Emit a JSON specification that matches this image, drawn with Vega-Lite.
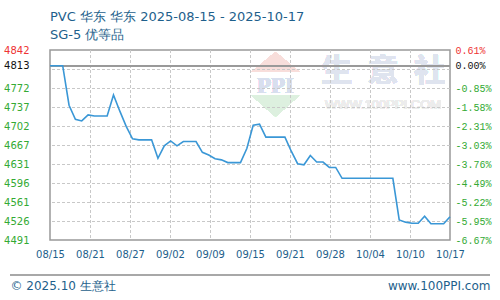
{
  "$schema": "https://vega.github.io/schema/vega-lite/v6.json",
  "width": 400,
  "height": 190,
  "autosize": {"type": "none"},
  "padding": {"left": 50, "top": 50, "right": 50, "bottom": 60},
  "background": "white",
  "title": {
    "text": "PVC 华东 华东 2025-08-15 - 2025-10-17",
    "subtitle": "SG-5 优等品",
    "anchor": "start",
    "frame": "group",
    "font": "DejaVu Sans",
    "fontSize": 13,
    "fontWeight": "normal",
    "color": "#1e5f8c",
    "subtitleFont": "DejaVu Sans",
    "subtitleFontSize": 13,
    "subtitleColor": "#1e5f8c",
    "subtitlePadding": 5,
    "offset": 3
  },
  "data": {
    "values": [
      {"date": "2025-08-15", "price": 4813},
      {"date": "2025-08-16", "price": 4813},
      {"date": "2025-08-17", "price": 4813},
      {"date": "2025-08-18", "price": 4740},
      {"date": "2025-08-19", "price": 4714},
      {"date": "2025-08-20", "price": 4711},
      {"date": "2025-08-21", "price": 4722},
      {"date": "2025-08-22", "price": 4720},
      {"date": "2025-08-23", "price": 4720},
      {"date": "2025-08-24", "price": 4720},
      {"date": "2025-08-25", "price": 4759},
      {"date": "2025-08-26", "price": 4729},
      {"date": "2025-08-27", "price": 4701},
      {"date": "2025-08-28", "price": 4678},
      {"date": "2025-08-29", "price": 4676},
      {"date": "2025-08-30", "price": 4676},
      {"date": "2025-08-31", "price": 4676},
      {"date": "2025-09-01", "price": 4642},
      {"date": "2025-09-02", "price": 4665},
      {"date": "2025-09-03", "price": 4674},
      {"date": "2025-09-04", "price": 4665},
      {"date": "2025-09-05", "price": 4673},
      {"date": "2025-09-06", "price": 4673},
      {"date": "2025-09-07", "price": 4673},
      {"date": "2025-09-08", "price": 4653},
      {"date": "2025-09-09", "price": 4648},
      {"date": "2025-09-10", "price": 4641},
      {"date": "2025-09-11", "price": 4639},
      {"date": "2025-09-12", "price": 4634},
      {"date": "2025-09-13", "price": 4634},
      {"date": "2025-09-14", "price": 4634},
      {"date": "2025-09-15", "price": 4660},
      {"date": "2025-09-16", "price": 4703},
      {"date": "2025-09-17", "price": 4705},
      {"date": "2025-09-18", "price": 4681},
      {"date": "2025-09-19", "price": 4681},
      {"date": "2025-09-20", "price": 4681},
      {"date": "2025-09-21", "price": 4681},
      {"date": "2025-09-22", "price": 4655},
      {"date": "2025-09-23", "price": 4632},
      {"date": "2025-09-24", "price": 4630},
      {"date": "2025-09-25", "price": 4647},
      {"date": "2025-09-26", "price": 4635},
      {"date": "2025-09-27", "price": 4635},
      {"date": "2025-09-28", "price": 4625},
      {"date": "2025-09-29", "price": 4625},
      {"date": "2025-09-30", "price": 4605},
      {"date": "2025-10-01", "price": 4605},
      {"date": "2025-10-02", "price": 4605},
      {"date": "2025-10-03", "price": 4605},
      {"date": "2025-10-04", "price": 4605},
      {"date": "2025-10-05", "price": 4605},
      {"date": "2025-10-06", "price": 4605},
      {"date": "2025-10-07", "price": 4605},
      {"date": "2025-10-08", "price": 4605},
      {"date": "2025-10-09", "price": 4528},
      {"date": "2025-10-10", "price": 4524},
      {"date": "2025-10-11", "price": 4522},
      {"date": "2025-10-12", "price": 4522},
      {"date": "2025-10-13", "price": 4535},
      {"date": "2025-10-14", "price": 4521},
      {"date": "2025-10-15", "price": 4521},
      {"date": "2025-10-16", "price": 4521},
      {"date": "2025-10-17", "price": 4534}
    ]
  },
  "layer": [
    {
      "layer": [
        {
          "mark": {"type": "rule", "stroke": "#a8a8a8", "strokeWidth": 1},
          "encoding": {
            "x": {"datum": {"year": 2025, "month": 8, "date": 8, "hours": 16, "minutes": 48, "utc": true}, "type": "temporal", "axis": null,
                  "scale": {"type": "utc", "domain": [{"year": 2025, "month": 8, "date": 15, "utc": true}, {"year": 2025, "month": 10, "date": 17, "utc": true}]}},
            "x2": {"datum": {"year": 2025, "month": 10, "date": 23, "hours": 7, "minutes": 12, "utc": true}},
            "y": {"datum": 4426.3, "type": "quantitative", "axis": null, "scale": {"domain": [4491, 4842], "nice": false, "zero": false}}
          }
        },
        {
          "mark": {"type": "point", "shape": "M0,-0.42L1,0.42L-1,0.42Z", "size": 2300, "filled": true, "fill": "#f8dedb", "opacity": 1, "strokeWidth": 0},
          "encoding": {
            "x": {"datum": {"year": 2025, "month": 9, "date": 19, "hours": 12, "minutes": 30, "utc": true}, "type": "temporal", "axis": null},
            "y": {"datum": 4819.8, "type": "quantitative", "axis": null}
          }
        },
        {
          "mark": {"type": "point", "shape": "M-1,-0.45L1,-0.45L0,0.45Z", "size": 2300, "filled": true, "fill": "#ddf0df", "opacity": 1, "strokeWidth": 0},
          "encoding": {
            "x": {"datum": {"year": 2025, "month": 9, "date": 19, "hours": 12, "minutes": 30, "utc": true}, "type": "temporal", "axis": null},
            "y": {"datum": 4738.5, "type": "quantitative", "axis": null}
          }
        },
        {
          "mark": {"type": "text", "text": "PPI", "font": "Liberation Serif", "fontSize": 23, "fontWeight": "bold", "color": "#d8dfee", "baseline": "middle", "align": "center"},
          "encoding": {
            "x": {"datum": {"year": 2025, "month": 9, "date": 19, "hours": 12, "minutes": 30, "utc": true}, "type": "temporal", "axis": null},
            "y": {"datum": 4776, "type": "quantitative", "axis": null}
          }
        },
        {
          "mark": {"type": "text", "text": "生\u2002意\u2002社", "font": "Noto Sans CJK SC", "fontSize": 31, "fontWeight": "bold", "color": "#dfe4ef", "baseline": "middle", "align": "center"},
          "encoding": {
            "x": {"datum": {"year": 2025, "month": 10, "date": 6, "hours": 10, "minutes": 48, "utc": true}, "type": "temporal", "axis": null},
            "y": {"datum": 4801.4, "type": "quantitative", "axis": null}
          }
        },
        {
          "mark": {"type": "text", "text": "WWW.100PPI.COM", "font": "Liberation Sans", "fontSize": 13, "color": "#ececec", "baseline": "middle", "align": "center"},
          "encoding": {
            "x": {"datum": {"year": 2025, "month": 10, "date": 6, "hours": 10, "minutes": 48, "utc": true}, "type": "temporal", "axis": null},
            "y": {"datum": 4740.4, "type": "quantitative", "axis": null}
          }
        },
        {"mark": {"type": "rule", "stroke": "#c8c8c8", "strokeWidth": 1, "strokeDash": [3, 2], "yOffset": 0.5}, "encoding": {"y": {"datum": 4526.1, "type": "quantitative", "axis": null}}},
        {"mark": {"type": "rule", "stroke": "#c8c8c8", "strokeWidth": 1, "strokeDash": [3, 2], "yOffset": 0.5}, "encoding": {"y": {"datum": 4561.2, "type": "quantitative", "axis": null}}},
        {"mark": {"type": "rule", "stroke": "#c8c8c8", "strokeWidth": 1, "strokeDash": [3, 2], "yOffset": 0.5}, "encoding": {"y": {"datum": 4596.3, "type": "quantitative", "axis": null}}},
        {"mark": {"type": "rule", "stroke": "#c8c8c8", "strokeWidth": 1, "strokeDash": [3, 2], "yOffset": 0.5}, "encoding": {"y": {"datum": 4631.4, "type": "quantitative", "axis": null}}},
        {"mark": {"type": "rule", "stroke": "#c8c8c8", "strokeWidth": 1, "strokeDash": [3, 2], "yOffset": 0.5}, "encoding": {"y": {"datum": 4666.5, "type": "quantitative", "axis": null}}},
        {"mark": {"type": "rule", "stroke": "#c8c8c8", "strokeWidth": 1, "strokeDash": [3, 2], "yOffset": 0.5}, "encoding": {"y": {"datum": 4701.6, "type": "quantitative", "axis": null}}},
        {"mark": {"type": "rule", "stroke": "#c8c8c8", "strokeWidth": 1, "strokeDash": [3, 2], "yOffset": 0.5}, "encoding": {"y": {"datum": 4736.7, "type": "quantitative", "axis": null}}},
        {"mark": {"type": "rule", "stroke": "#c8c8c8", "strokeWidth": 1, "strokeDash": [3, 2], "yOffset": 0.5}, "encoding": {"y": {"datum": 4771.8, "type": "quantitative", "axis": null}}},
        {"mark": {"type": "rule", "stroke": "#c8c8c8", "strokeWidth": 1, "strokeDash": [3, 2], "yOffset": 0.5}, "encoding": {"y": {"datum": 4806.9, "type": "quantitative", "axis": null}}},
        {"mark": {"type": "rule", "stroke": "#c8c8c8", "strokeWidth": 1, "strokeDash": [3, 2], "xOffset": 0.5}, "encoding": {"x": {"datum": {"year": 2025, "month": 8, "date": 21, "hours": 7, "minutes": 12, "utc": true}, "type": "temporal", "axis": null}}},
        {"mark": {"type": "rule", "stroke": "#c8c8c8", "strokeWidth": 1, "strokeDash": [3, 2], "xOffset": 0.5}, "encoding": {"x": {"datum": {"year": 2025, "month": 8, "date": 27, "hours": 14, "minutes": 24, "utc": true}, "type": "temporal", "axis": null}}},
        {"mark": {"type": "rule", "stroke": "#c8c8c8", "strokeWidth": 1, "strokeDash": [3, 2], "xOffset": 0.5}, "encoding": {"x": {"datum": {"year": 2025, "month": 9, "date": 2, "hours": 21, "minutes": 36, "utc": true}, "type": "temporal", "axis": null}}},
        {"mark": {"type": "rule", "stroke": "#c8c8c8", "strokeWidth": 1, "strokeDash": [3, 2], "xOffset": 0.5}, "encoding": {"x": {"datum": {"year": 2025, "month": 9, "date": 9, "hours": 4, "minutes": 48, "utc": true}, "type": "temporal", "axis": null}}},
        {"mark": {"type": "rule", "stroke": "#c8c8c8", "strokeWidth": 1, "strokeDash": [3, 2], "xOffset": 0.5}, "encoding": {"x": {"datum": {"year": 2025, "month": 9, "date": 15, "hours": 12, "utc": true}, "type": "temporal", "axis": null}}},
        {"mark": {"type": "rule", "stroke": "#c8c8c8", "strokeWidth": 1, "strokeDash": [3, 2], "xOffset": 0.5}, "encoding": {"x": {"datum": {"year": 2025, "month": 9, "date": 21, "hours": 19, "minutes": 12, "utc": true}, "type": "temporal", "axis": null}}},
        {"mark": {"type": "rule", "stroke": "#c8c8c8", "strokeWidth": 1, "strokeDash": [3, 2], "xOffset": 0.5}, "encoding": {"x": {"datum": {"year": 2025, "month": 9, "date": 28, "hours": 2, "minutes": 24, "utc": true}, "type": "temporal", "axis": null}}},
        {"mark": {"type": "rule", "stroke": "#c8c8c8", "strokeWidth": 1, "strokeDash": [3, 2], "xOffset": 0.5}, "encoding": {"x": {"datum": {"year": 2025, "month": 10, "date": 4, "hours": 9, "minutes": 36, "utc": true}, "type": "temporal", "axis": null}}},
        {"mark": {"type": "rule", "stroke": "#c8c8c8", "strokeWidth": 1, "strokeDash": [3, 2], "xOffset": 0.5}, "encoding": {"x": {"datum": {"year": 2025, "month": 10, "date": 10, "hours": 16, "minutes": 48, "utc": true}, "type": "temporal", "axis": null}}},
        {"mark": {"type": "rule", "stroke": "#999999", "strokeWidth": 1.5}, "encoding": {"y": {"datum": 4813, "type": "quantitative", "axis": null}}}
      ]
    },
    {
      "mark": {"type": "line", "color": "#3a97d6", "strokeWidth": 1.6, "interpolate": "linear"},
      "encoding": {
        "x": {
          "field": "date",
          "type": "temporal",
          "scale": {"type": "utc", "domain": [{"year": 2025, "month": 8, "date": 15, "utc": true}, {"year": 2025, "month": 10, "date": 17, "utc": true}]},
          "axis": {
            "values": [
              {"year": 2025, "month": 8, "date": 15, "utc": true},
              {"year": 2025, "month": 8, "date": 21, "hours": 7, "minutes": 12, "utc": true},
              {"year": 2025, "month": 8, "date": 27, "hours": 14, "minutes": 24, "utc": true},
              {"year": 2025, "month": 9, "date": 2, "hours": 21, "minutes": 36, "utc": true},
              {"year": 2025, "month": 9, "date": 9, "hours": 4, "minutes": 48, "utc": true},
              {"year": 2025, "month": 9, "date": 15, "hours": 12, "utc": true},
              {"year": 2025, "month": 9, "date": 21, "hours": 19, "minutes": 12, "utc": true},
              {"year": 2025, "month": 9, "date": 28, "hours": 2, "minutes": 24, "utc": true},
              {"year": 2025, "month": 10, "date": 4, "hours": 9, "minutes": 36, "utc": true},
              {"year": 2025, "month": 10, "date": 10, "hours": 16, "minutes": 48, "utc": true},
              {"year": 2025, "month": 10, "date": 17, "utc": true}
            ],
            "labelExpr": "utcFormat(datum.value, '%m/%d')",
            "labelFont": "DejaVu Sans",
            "labelFontSize": 10,
            "labelColor": "#1e5f8c",
            "labelPadding": 9,
            "labelOverlap": false,
            "labelFlush": false,
            "ticks": false,
            "domain": false,
            "grid": false,
            "title": "© 2025.10 生意社",
            "titleFont": "DejaVu Sans",
            "titleFontSize": 12,
            "titleFontWeight": "normal",
            "titleColor": "#1e5f8c",
            "titleAlign": "left",
            "titleBaseline": "alphabetic",
            "titleX": -40,
            "titleY": 49
          }
        },
        "y": {
          "field": "price",
          "type": "quantitative",
          "scale": {"domain": [4491, 4842], "nice": false, "zero": false},
          "axis": {
            "values": [4491, 4526.1, 4561.2, 4596.3, 4631.4, 4666.5, 4701.6, 4736.7, 4771.8, 4806.9, 4842, 4813],
            "labelExpr": "abs(datum.value - 4806.9) < 0.01 ? '' : format(datum.value, '.0f')",
            "labelFont": "DejaVu Sans",
            "labelFontSize": 10,
            "labelPadding": 21,
            "labelOverlap": false,
            "labelFlush": false,
            "ticks": false,
            "domain": false,
            "grid": false,
            "labelColor": {"condition": [{"test": "datum.value == 4842", "value": "#ee3333"}, {"test": "datum.value == 4813", "value": "#111111"}], "value": "#33aa33"},
            "title": null
          }
        }
      }
    },
    {
      "mark": {"type": "line", "opacity": 0},
      "encoding": {
        "x": {"field": "date", "type": "temporal", "axis": null,
              "scale": {"type": "utc", "domain": [{"year": 2025, "month": 8, "date": 15, "utc": true}, {"year": 2025, "month": 10, "date": 17, "utc": true}]}},
        "y": {
          "field": "price",
          "type": "quantitative",
          "scale": {"domain": [4491, 4842], "nice": false, "zero": false},
          "axis": {
            "orient": "right",
            "values": [4491, 4526.1, 4561.2, 4596.3, 4631.4, 4666.5, 4701.6, 4736.7, 4771.8, 4806.9, 4842, 4813],
            "labelExpr": "datum.value == 4813 ? '0.00%' : (abs(datum.value - 4806.9) < 0.01 ? '' : ['-6.67%','-5.95%','-5.22%','-4.49%','-3.76%','-3.03%','-2.31%','-1.58%','-0.85%','','0.61%'][round((datum.value - 4491) / 35.1)])",
            "labelFont": "Liberation Mono",
            "labelFontSize": 10,
            "labelPadding": 5,
            "labelOverlap": false,
            "labelFlush": false,
            "labelColor": {"condition": [{"test": "datum.value == 4842", "value": "#ee3333"}, {"test": "datum.value == 4813", "value": "#111111"}], "value": "#33aa33"},
            "ticks": false,
            "domain": false,
            "grid": false,
            "title": "www.100PPI.com",
            "titleFont": "DejaVu Sans",
            "titleFontSize": 12,
            "titleFontWeight": "normal",
            "titleColor": "#1e5f8c",
            "titleAngle": 0,
            "titleAlign": "right",
            "titleBaseline": "alphabetic",
            "titleX": 40,
            "titleY": 239
          }
        }
      }
    }
  ],
  "resolve": {"scale": {"x": "independent", "y": "independent"}},
  "config": {
    "view": {"stroke": "#999999", "strokeWidth": 1.5}
  }
}
